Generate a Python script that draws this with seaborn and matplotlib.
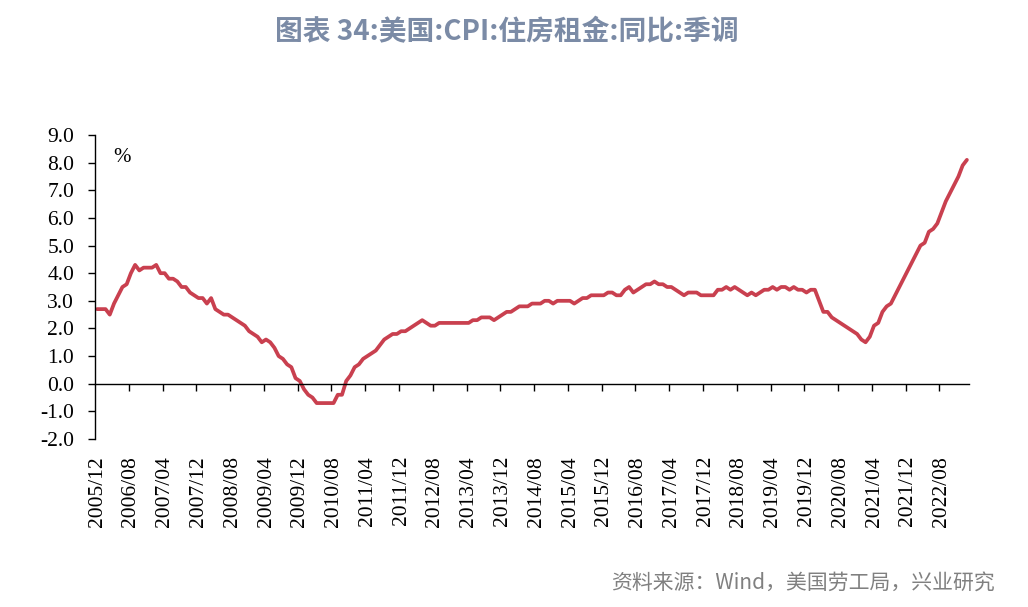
import numpy as np
import pandas as pd
import matplotlib
matplotlib.use("Agg")
import matplotlib.pyplot as plt
import seaborn as sns
from matplotlib.ticker import FuncFormatter

# ---------------- data ----------------
start_month = "2005-12"
shelter_yoy = [
    2.7, 2.7, 2.7, 2.5, 2.9, 3.2, 3.5, 3.6, 4.0, 4.3,
    4.1, 4.2, 4.2, 4.2, 4.3, 4.0, 4.0, 3.8, 3.8, 3.7,
    3.5, 3.5, 3.3, 3.2, 3.1, 3.1, 2.9, 3.1, 2.7, 2.6,
    2.5, 2.5, 2.4, 2.3, 2.2, 2.1, 1.9, 1.8, 1.7, 1.5,
    1.6, 1.5, 1.3, 1.0, 0.9, 0.7, 0.6, 0.2, 0.1, -0.2,
    -0.4, -0.5, -0.7, -0.7, -0.7, -0.7, -0.7, -0.4, -0.4, 0.1,
    0.3, 0.6, 0.7, 0.9, 1.0, 1.1, 1.2, 1.4, 1.6, 1.7,
    1.8, 1.8, 1.9, 1.9, 2.0, 2.1, 2.2, 2.3, 2.2, 2.1,
    2.1, 2.2, 2.2, 2.2, 2.2, 2.2, 2.2, 2.2, 2.2, 2.3,
    2.3, 2.4, 2.4, 2.4, 2.3, 2.4, 2.5, 2.6, 2.6, 2.7,
    2.8, 2.8, 2.8, 2.9, 2.9, 2.9, 3.0, 3.0, 2.9, 3.0,
    3.0, 3.0, 3.0, 2.9, 3.0, 3.1, 3.1, 3.2, 3.2, 3.2,
    3.2, 3.3, 3.3, 3.2, 3.2, 3.4, 3.5, 3.3, 3.4, 3.5,
    3.6, 3.6, 3.7, 3.6, 3.6, 3.5, 3.5, 3.4, 3.3, 3.2,
    3.3, 3.3, 3.3, 3.2, 3.2, 3.2, 3.2, 3.4, 3.4, 3.5,
    3.4, 3.5, 3.4, 3.3, 3.2, 3.3, 3.2, 3.3, 3.4, 3.4,
    3.5, 3.4, 3.5, 3.5, 3.4, 3.5, 3.4, 3.4, 3.3, 3.4,
    3.4, 3.0, 2.6, 2.6, 2.4, 2.3, 2.2, 2.1, 2.0, 1.9,
    1.8, 1.6, 1.5, 1.7, 2.1, 2.2, 2.6, 2.8, 2.9, 3.2,
    3.5, 3.8, 4.1, 4.4, 4.7, 5.0, 5.1, 5.5, 5.6, 5.8,
    6.2, 6.6, 6.9, 7.2, 7.5, 7.9, 8.1,
]
title_text = "图表 34:美国:CPI:住房租金:同比:季调"
source_text = "资料来源：Wind，美国劳工局，兴业研究"
unit_text = "%"
y_ticks = list(range(-2, 10))
label_step = 8

n = len(shelter_yoy)
months = pd.date_range(start_month, periods=n, freq="MS").strftime("%Y/%m")
df = pd.DataFrame({"idx": np.arange(n), "month": months, "value": shelter_yoy})

# ---------------- style ----------------
sns.set_theme(style="ticks")
plt.rcParams["font.family"] = ["Liberation Serif", "Noto Sans CJK SC", "DejaVu Sans"]

W, H = 1028, 607
fig = plt.figure(figsize=(W / 100, H / 100), dpi=100)
ax = fig.add_axes([95 / W, 1 - 439 / H, 874 / W, 304 / H])

sns.lineplot(data=df, x="idx", y="value", color="#c9404f", linewidth=2.7, ax=ax)

ax.set_xlim(-0.5, n - 0.5)
ax.set_ylim(-2, 9)
ax.set_yticks(y_ticks)
ax.yaxis.set_major_formatter(FuncFormatter(lambda v, p: f"{v:.1f}"))

for s in ["top", "right"]:
    ax.spines[s].set_visible(False)
ax.spines["bottom"].set_position(("data", 0))
for s in ["left", "bottom"]:
    ax.spines[s].set_color("black")
    ax.spines[s].set_linewidth(1.0)

major_pos = df["idx"].iloc[::label_step].to_numpy()
ax.set_xticks(major_pos)
ax.set_xticklabels(df["month"].iloc[::label_step], rotation=90)
ax.set_xticks(np.arange(label_step - 0.5, n - 1, label_step), minor=True)
ax.tick_params(axis="x", which="major", length=0, pad=52, labelsize=15.5,
               labelcolor="black")
ax.tick_params(axis="x", which="minor", length=5, width=1.0, direction="out",
               color="black")
ax.tick_params(axis="y", which="major", length=5, width=1.0, direction="out",
               color="black", labelsize=15.5, pad=10, labelcolor="black")
ax.set_xlabel("")
ax.set_ylabel("")

ax.text((122 - 95) / 874, (439 - 157) / 304, unit_text, transform=ax.transAxes,
        ha="center", va="center", fontsize=15, color="black")

fig.text((268 + 745) / 2 / W, 1 - 32 / H, title_text, ha="center", va="center",
         fontsize=20, color="#7b8ba6", fontweight="bold",
         family=["Noto Sans CJK SC", "DejaVu Sans"])
fig.text(995 / W, 1 - 583 / H, source_text, ha="right", va="center",
         fontsize=15, color="#808080", family=["Noto Sans CJK SC", "DejaVu Sans"])

fig.savefig("out.png", dpi=100)
